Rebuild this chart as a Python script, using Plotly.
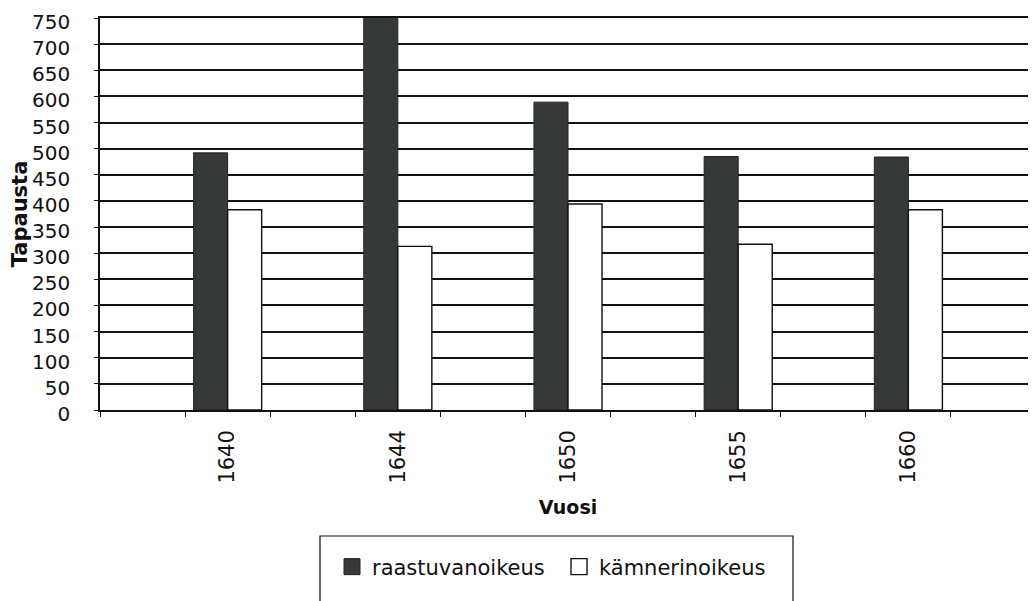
import plotly.graph_objects as go

# Data
years = ["1640", "1644", "1650", "1655", "1660"]
raastuvanoikeus = [492, 755, 589, 485, 484]
kamnerinoikeus = [383, 313, 394, 317, 383]
series_names = ["raastuvanoikeus", "kämnerinoikeus"]
y_ticks = list(range(0, 751, 50))

# category slots: an empty slot before each year and one at the end
slots = []
for i, yv in enumerate(years):
    slots.append(" " * (i + 1))
    slots.append(yv)
slots.append(" " * (len(years) + 1))

DARK = "#353a38"
FONT = "DejaVu Sans"
W, H = 1028, 593  # page body has an 8px margin

fig = go.Figure()
fig.add_trace(go.Bar(x=years, y=raastuvanoikeus, name=series_names[0],
                     marker=dict(color=DARK, line=dict(color="#222", width=1)),
                     showlegend=False))
fig.add_trace(go.Bar(x=years, y=kamnerinoikeus, name=series_names[1],
                     marker=dict(color="white", line=dict(color="#111", width=1.4)),
                     showlegend=False))
# legend entries
fig.add_trace(go.Scatter(x=[None], y=[None], mode="markers", name=series_names[0],
                         marker=dict(symbol="square", size=22, color=DARK,
                                     line=dict(color="#222", width=1))))
fig.add_trace(go.Scatter(x=[None], y=[None], mode="markers", name=series_names[1],
                         marker=dict(symbol="square", size=22, color="white",
                                     line=dict(color="#111", width=1.4))))

fig.update_layout(
    width=W, height=H,
    margin=dict(l=92, r=0, t=10, b=191),
    paper_bgcolor="white", plot_bgcolor="white",
    font=dict(family=FONT, size=20, color="#111"),
    barmode="group", bargap=0.2, bargroupgap=0,
    showlegend=True,
    legend=dict(orientation="h", xref="container", yref="container",
                x=324 / W, xanchor="left", y=1 - 559 / H, yanchor="middle",
                font=dict(family=FONT, size=21, color="#111"),
                borderwidth=0, bgcolor="rgba(0,0,0,0)",
                itemwidth=30, tracegroupgap=0, entrywidth=182),
    xaxis=dict(
        type="category", categoryorder="array", categoryarray=slots,
        range=[-0.5, len(slots) - 0.5], automargin=False,
        tickson="boundaries", ticks="outside", ticklen=5, tickcolor="#111",
        tickwidth=1, tickangle=-90, ticklabelstandoff=10,
        showline=True, linecolor="#111", linewidth=1.5, mirror=True,
        showgrid=False, zeroline=False,
        tickfont=dict(family=FONT, size=21, color="#111"),
        title=dict(text="<b>Vuosi</b>", standoff=18,
                   font=dict(family=FONT, size=19, color="#111")),
    ),
    yaxis=dict(
        range=[0, 750], tickvals=y_ticks, ticks="outside", ticklen=4,
        tickcolor="#111", tickwidth=1, automargin=False,
        ticklabelstandoff=20, ticklabelshift=4, ticklabeloverflow="allow",
        showline=True, linecolor="#111", linewidth=1.5,
        showgrid=True, gridcolor="#111", gridwidth=1.6,
        zeroline=False,
        tickfont=dict(family=FONT, size=20, color="#111"),
        title=dict(text="<b>Tapausta</b>", standoff=1,
                   font=dict(family=FONT, size=21, color="#111")),
    ),
    shapes=[dict(type="rect", xref="paper", yref="paper",
                 x0=(320 - 100) / 936, x1=(793 - 100) / 936,
                 y0=-(620 - 410) / 392, y1=-(536 - 410) / 392,
                 line=dict(color="#111", width=1.2), fillcolor="rgba(0,0,0,0)")],
)

fig.write_html("out.html")
